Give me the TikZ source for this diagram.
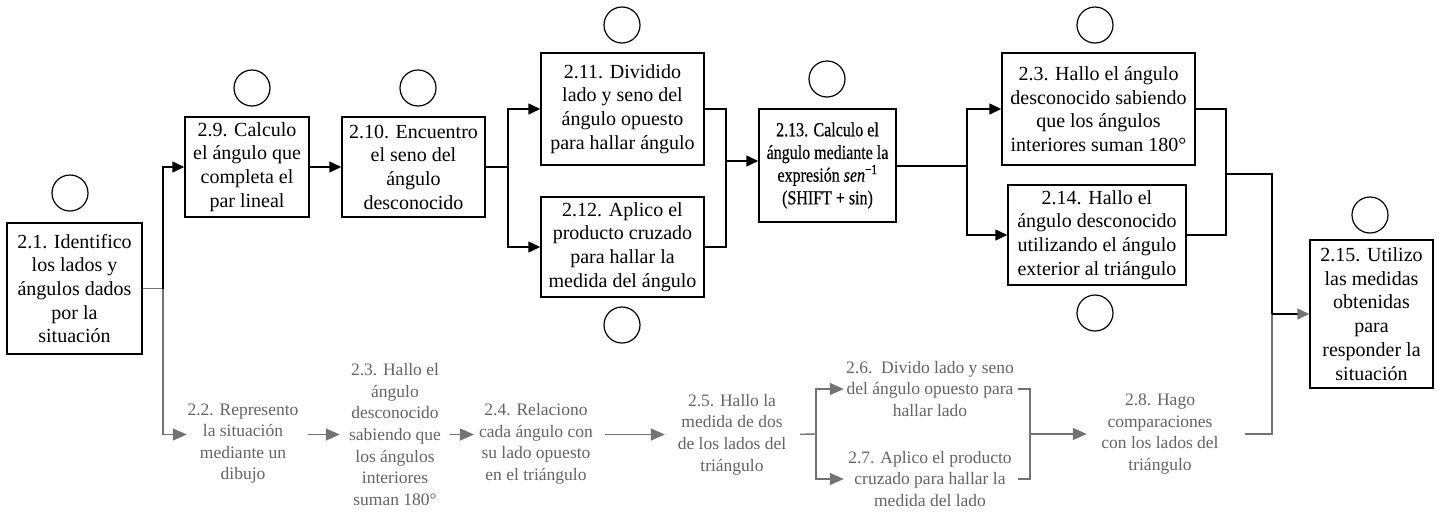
\documentclass[tikz,border=0pt]{standalone}
\usepackage{fontspec}
\setmainfont{Liberation Serif}
\newfontfamily\condfont[FakeStretch=0.8,FakeBold=0.4]{Liberation Serif}
\usetikzlibrary{arrows.meta}
\definecolor{gtext}{RGB}{100,100,100}
\definecolor{gline}{RGB}{115,115,115}
\begin{document}
\begin{tikzpicture}[x=1pt,y=-1pt,
  box/.style={draw, line width=1.5pt, inner sep=0pt, align=center, font=\fontsize{20}{23.7}\selectfont},
  circ/.style={draw, circle, line width=1.2pt, minimum size=36pt, inner sep=0pt},
  gtxt/.style={text=gtext, align=center, inner sep=0pt, font=\fontsize{17.5}{21.6}\selectfont},
  conn/.style={line width=1.5pt},
  arr/.style={conn, -{Triangle[length=12pt,width=11pt]}},
  gconn/.style={line width=1.4pt, draw=gline},
  garr/.style={gconn, -{Triangle[length=14pt,width=12pt]}}]
\useasboundingbox (0,0) rectangle (1440,517);

% black boxes
\node[box, minimum width=135pt, minimum height=131pt] (b21) at (74.5,288.5) {2.1. Identifico\\los lados y\\ángulos dados\\por la\\situación};
\node[box, minimum width=124pt, minimum height=100pt] (b29) at (247,167) {2.9. Calculo\\el ángulo que\\completa el\\par lineal};
\node[box, minimum width=143pt, minimum height=100pt] (b210) at (413.5,167) {2.10. Encuentro\\el seno del\\ángulo\\desconocido};
\node[box, minimum width=163pt, minimum height=112pt] (b211) at (622.5,109) {2.11. Dividido\\lado y seno del\\ángulo opuesto\\para hallar ángulo};
\node[box, minimum width=163pt, minimum height=100pt] (b212) at (622.5,247) {2.12. Aplico el\\producto cruzado\\para hallar la\\medida del ángulo};
\node[box, minimum width=137pt, minimum height=113pt, font=\condfont\fontsize{20}{22.7}\selectfont] (b213) at (827.5,165.5) {2.13. Calculo el\\ángulo mediante la\\expresión \textit{sen}\textsuperscript{−1}\\(SHIFT + sin)};
\node[box, minimum width=193pt, minimum height=112pt] (b23) at (1098.5,109) {2.3. Hallo el ángulo\\desconocido sabiendo\\que los ángulos\\interiores suman 180°};
\node[box, minimum width=178pt, minimum height=100pt] (b214) at (1097,235) {2.14. Hallo el\\ángulo desconocido\\utilizando el ángulo\\exterior al triángulo};
\node[box, minimum width=123pt, minimum height=148pt] (b215) at (1371.5,314) {2.15. Utilizo\\las medidas\\obtenidas\\para\\responder la\\situación};

% circles
\node[circ] (c21) at (70,193) {};
\node[circ] (c29) at (252,88) {};
\node[circ] (c210) at (418,88) {};
\node[circ] (c211) at (622,25) {};
\node[circ] (c212) at (622,325) {};
\node[circ] (c213) at (827,79) {};
\node[circ] (c23) at (1095,25) {};
\node[circ] (c214) at (1095,313) {};
\node[circ] (c215) at (1370,215) {};

% gray texts
\node[gtxt, minimum width=112pt] (g22) at (243,443.5) {2.2. Represento\\la situación\\mediante un\\dibujo};
\node[gtxt, minimum width=104pt] (g23) at (395,434.5) {2.3. Hallo el\\ángulo\\desconocido\\sabiendo que\\los ángulos\\interiores\\suman 180°};
\node[gtxt, minimum width=112pt] (g24) at (536,444) {2.4. Relaciono\\cada ángulo con\\su lado opuesto\\en el triángulo};
\node[gtxt, minimum width=112pt] (g25) at (732,434.5) {2.5. Hallo la\\medida de dos\\de los lados del\\triángulo};
\node[gtxt, minimum width=172pt] (g26) at (930,389) {2.6.\ \ Divido lado y seno\\del ángulo opuesto para\\hallar lado};
\node[gtxt, minimum width=172pt] (g27) at (930,479) {2.7. Aplico el producto\\cruzado para hallar la\\medida del lado};
\node[gtxt, minimum width=146pt] (g28) at (1160,434) {2.8. Hago\\comparaciones\\con los lados del\\triángulo};

% junctions
\coordinate (j1) at (163,288.5);
\coordinate (j2) at (508,167);
\coordinate (j3) at (726,161);
\coordinate (j4) at (967,166);
\coordinate (j5) at (1226,174);
\coordinate (j6) at (1272,314);
\coordinate (j7) at (816,434);
\coordinate (j8) at (1030,434);

% gray connectors
\draw[gconn] (b21.east) -- (j1);
\draw[garr] (j1) |- (g22.west |- g23);
\draw[garr, shorten <=9pt, shorten >=3pt] (g22.east |- g23) -- (g23.west);
\draw[garr, shorten <=3pt, shorten >=5pt] (g23.east) -- (g23.east -| g24.west);
\draw[garr, shorten <=12pt, shorten >=11pt] (g24.east |- g25) -- (g25.west);
\draw[gconn, shorten <=12pt] (g25.east) -- (j7);
\draw[garr] (j7) |- (g26.west);
\draw[garr] (j7) |- (g27.west);
\draw[gconn, shorten <=2pt] (g26.east) -| (j8);
\draw[gconn, shorten <=2pt] (g27.east) -| (j8);
\draw[garr] (j8) -- (j8 -| g28.west);
\draw[gconn, shorten <=12pt] (g28.east) -| (j6);

% black connectors
\draw[arr] (j1) |- (b29.west);
\draw[arr] (b29.east) -- (b210.west);
\draw[conn] (b210.east) -- (j2);
\draw[arr] (j2) |- (b211.west);
\draw[arr] (j2) |- (b212.west);
\draw[conn] (b211.east) -| (j3);
\draw[conn] (b212.east) -| (j3);
\draw[arr] (j3) -- (j3 -| b213.west);
\draw[conn] (b213.east |- j4) -- (j4);
\draw[arr] (j4) |- (b23.west);
\draw[arr] (j4) |- (b214.west);
\draw[conn] (b23.east) -| (j5);
\draw[conn] (b214.east) -| (j5);
\draw[conn] (j5) -| (j6);
\draw[conn, -{Triangle[length=12pt,width=11pt,color=gline]}] (j6) -- (b215.west);
\end{tikzpicture}
\end{document}
